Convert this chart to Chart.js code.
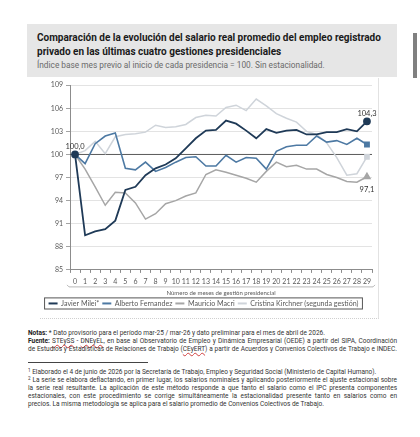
<!DOCTYPE html>
<html lang="es">
<head>
<meta charset="utf-8">
<title>Salario real del empleo registrado privado</title>
<script src="https://cdn.jsdelivr.net/npm/chart.js@4.4.1/dist/chart.umd.min.js"></script>
<style>
  html, body { margin: 0; padding: 0; background: #fff; }
  body { width: 420px; height: 437px; position: relative; overflow: hidden; font-family: Roboto, "Noto Sans", sans-serif; }
  .title-box { position: absolute; left: 27px; top: 24px; width: 370px; height: 53px; background: #e6e6e6; }
  .title { position: absolute; left: 10px; top: 7px; font-size: 10px; font-weight: 700; line-height: 13.5px; color: #1a1a1a; white-space: nowrap; }
  .subtitle { position: absolute; left: 10px; top: 36px; font-size: 8.3px; color: #6a6a6a; white-space: nowrap; }
  .scroll { position: absolute; left: 413px; top: 33px; width: 4px; height: 45px; background: #808080; }
  .chart-frame { position: absolute; left: 40px; top: 78px; width: 338px; height: 240px; border-right: 1px solid #e2e2e2; border-bottom: 1px dotted #cfcfcf; }
  #chartWrap { position: absolute; left: 35px; top: 78px; width: 345px; height: 240px; }
  .notes { position: absolute; left: 28px; width: 369px; font-size: 6.5px; line-height: 8px; color: #333; }
  .notes div { white-space: nowrap; }
  .notes .j { text-align: justify; text-align-last: justify; }
  .notes b { font-weight: 700; color: #222; }
  .sp { text-decoration: underline wavy #d04040; text-decoration-thickness: 0.5px; text-underline-offset: 1px; }
  .rule { position: absolute; left: 28px; top: 362px; width: 120px; border-top: 0.8px solid #444; }
  sup { font-size: 4.5px; vertical-align: 2px; line-height: 0; }
</style>
</head>
<body>

<div class="title-box">
  <div class="title">Comparación de la evolución del salario real promedio del empleo registrado<br>privado en las últimas cuatro gestiones presidenciales</div>
  <div class="subtitle">Índice base mes previo al inicio de cada presidencia = 100. Sin estacionalidad.</div>
</div>
<div class="scroll"></div>

<div class="chart-frame"></div>
<div id="chartWrap"><canvas id="salaryChart" width="345" height="240"></canvas></div>

<div class="notes" style="top:329px;">
  <div><b>Notas:</b> * Dato provisorio para el período mar-25 / mar-26 y dato preliminar para el mes de abril de 2026.</div>
  <div class="j"><b>Fuente:</b> <span class="sp">STEySS</span> - <span class="sp">DNEyEL</span>, en base al Observatorio de Empleo y Dinámica Empresarial (OEDE) a partir del SIPA, Coordinación</div>
  <div class="j">de Estudios y Estadísticas de Relaciones de Trabajo (<span class="sp">CEyERT</span>) a partir de Acuerdos y Convenios Colectivos de Trabajo e INDEC.</div>
</div>
<div class="rule"></div>
<div class="notes" style="top:368px;">
  <div><sup>1</sup> Elaborado el 4 de junio de 2026 por la Secretaría de Trabajo, Empleo y Seguridad Social (Ministerio de Capital Humano).</div>
  <div class="j"><sup>2</sup> La serie se elabora deflactando, en primer lugar, los salarios nominales y aplicando posteriormente el ajuste estacional sobre</div>
  <div class="j">la serie real resultante. La aplicación de este método responde a que tanto el salario como el IPC presenta componentes</div>
  <div class="j">estacionales, con este procedimiento se corrige simultáneamente la estacionalidad presente tanto en salarios como en</div>
  <div>precios. La misma metodología se aplica para el salario promedio de Convenios Colectivos de Trabajo.</div>
</div>

<script>
// salary chart
// index 100 = month before each presidency started

// ============================
// DATA
// ============================
const monthLabels = [
  "0", "1", "2", "3", "4", "5", "6", "7", "8", "9",
  "10", "11", "12", "13", "14", "15", "16", "17", "18", "19",
  "20", "21", "22", "23", "24", "25", "26", "27", "28", "29"
];

const mileiValues = [
  100, 89.5, 90.0, 90.3, 91.4, 95.4, 95.8, 97.3, 98.2, 98.7,
  99.5, 100.8, 102.1, 103.1, 103.2, 104.4, 104.0, 103.1, 102.1, 103.3,
  102.8, 103.1, 103.2, 102.6, 102.6, 102.9, 102.9, 103.3, 103.0, 104.3
];

const fernandezValues = [
  100, 98.8, 101.4, 102.4, 102.8, 98.2, 98.0, 99.0, 97.8, 98.3,
  99.0, 99.6, 99.7, 98.5, 98.5, 99.9, 99.0, 99.6, 99.5, 98.1,
  100.4, 101.0, 101.2, 101.2, 102.4, 101.6, 101.8, 101.3, 102.1, 101.3
];

const macriValues = [
  100, 98.1, 95.8, 93.4, 95.1, 95.0, 93.7, 91.6, 92.3, 93.6,
  94.0, 94.6, 95.0, 97.4, 98.0, 97.7, 97.3, 96.9, 96.4, 97.8,
  99.0, 98.4, 98.6, 98.1, 98.1, 97.4, 97.0, 96.5, 96.4, 97.1
];

const kirchnerValues = [
  100, 100.5, 101.7, 100.1, 102.3, 102.6, 102.7, 102.9, 103.8, 103.5,
  103.6, 103.9, 104.8, 105.1, 105.0, 106.1, 106.4, 105.7, 107.2, 106.3,
  105.3, 104.7, 104.2, 103.0, 102.6, 101.5, 99.6, 97.3, 97.5, 99.7
];

const seriesNames = [
  "Javier Milei*",
  "Alberto Fernandez",
  "Mauricio Macri",
  "Cristina Kirchner (segunda gestión)"
];

const yTickValues = [85, 88, 91, 94, 97, 100, 103, 106, 109];
const BASE_VALUE = 100;

// ============================
// HELPERS
// ============================
const lastIndex = monthLabels.length - 1;

function formatComma(v) {
  return v.toFixed(1).replace(".", ",");
}

// marker only on chosen points
function markerAt(indexes, size) {
  return ctx => (indexes.includes(ctx.dataIndex) ? size : 0);
}

// ============================
// PLUGINS
// ============================
const baseLinePlugin = {
  id: "baseLine",
  beforeDatasetsDraw(chart) {
    const { ctx, chartArea, scales } = chart;
    const y = scales.y.getPixelForValue(BASE_VALUE);
    ctx.save();
    ctx.strokeStyle = "#5a5a5a";
    ctx.lineWidth = 1;
    ctx.beginPath();
    ctx.moveTo(chartArea.left, y);
    ctx.lineTo(chartArea.right, y);
    ctx.stroke();
    ctx.restore();
  }
};

// labels on first / last points
const pointLabels = [
  { dataset: 0, index: 0, dy: -4 },
  { dataset: 0, index: lastIndex, dy: -4 },
  { dataset: 2, index: lastIndex, dy: 17 }
];

const valueLabelPlugin = {
  id: "valueLabels",
  afterDatasetsDraw(chart) {
    const ctx = chart.ctx;
    ctx.save();
    ctx.font = "7.5px Lato, 'Open Sans', sans-serif";
    ctx.fillStyle = "#333333";
    ctx.textAlign = "center";
    ctx.textBaseline = "bottom";
    pointLabels.forEach(lbl => {
      const pt = chart.getDatasetMeta(lbl.dataset).data[lbl.index];
      const value = chart.data.datasets[lbl.dataset].data[lbl.index];
      ctx.fillText(formatComma(value), pt.x, pt.y + lbl.dy);
    });
    ctx.restore();
  }
};

// bracket under the month numbers + box round the legend
const framePlugin = {
  id: "frames",
  afterDraw(chart) {
    const { ctx, scales } = chart;
    const x = scales.x;
    const by = x.top + 17;

    ctx.save();
    ctx.strokeStyle = "#9a9a9a";
    ctx.lineWidth = 0.7;
    ctx.beginPath();
    ctx.moveTo(x.left - 3, by - 2);
    ctx.lineTo(x.left - 1, by);
    ctx.lineTo(x.right + 1, by);
    ctx.lineTo(x.right + 3, by - 2);
    ctx.stroke();

    const boxes = chart.legend.legendHitBoxes;
    if (boxes && boxes.length) {
      const left = Math.min(...boxes.map(b => b.left)) - 4;
      const right = Math.max(...boxes.map(b => b.left + b.width)) + 4;
      const top = Math.min(...boxes.map(b => b.top)) - 2;
      const bottom = Math.max(...boxes.map(b => b.top + b.height)) + 2;
      ctx.strokeStyle = "#555555";
      ctx.lineWidth = 1;
      ctx.strokeRect(left, top, right - left, bottom - top);
    }
    ctx.restore();
  }
};

// ============================
// CHART
// ============================
const tickFont = { family: "Lato, 'Open Sans', sans-serif", size: 7 };

new Chart(document.getElementById("salaryChart").getContext("2d"), {
  type: "line",
  data: {
    labels: monthLabels,
    datasets: [
      {
        label: seriesNames[0],
        data: mileiValues,
        borderColor: "#1f3a57",
        backgroundColor: "#1f3a57",
        borderWidth: 1.8,
        pointStyle: "circle",
        pointRadius: markerAt([0, lastIndex], 3),
        tension: 0
      },
      {
        label: seriesNames[1],
        data: fernandezValues,
        borderColor: "#4d79a3",
        backgroundColor: "#4d79a3",
        borderWidth: 1.6,
        pointStyle: "rect",
        pointRadius: markerAt([lastIndex], 3),
        tension: 0
      },
      {
        label: seriesNames[2],
        data: macriValues,
        borderColor: "#a6a6a6",
        backgroundColor: "#a6a6a6",
        borderWidth: 1.5,
        pointStyle: "triangle",
        pointRadius: markerAt([lastIndex], 3.5),
        tension: 0
      },
      {
        label: seriesNames[3],
        data: kirchnerValues,
        borderColor: "#cfd4da",
        backgroundColor: "#cfd4da",
        borderWidth: 1.5,
        pointStyle: "rect",
        pointRadius: markerAt([lastIndex], 3),
        tension: 0
      }
    ]
  },
  options: {
    responsive: false,
    animation: false,
    layout: { padding: { left: 0, right: 8, top: 6, bottom: 1 } },
    scales: {
      x: {
        type: "category",
        offset: true,
        grid: {
          offset: true,
          drawOnChartArea: false,
          drawTicks: true,
          tickLength: 3,
          tickColor: "#8c8c8c"
        },
        border: { color: "#8c8c8c", width: 1 },
        ticks: {
          font: tickFont,
          color: "#595959",
          autoSkip: false,
          maxRotation: 0,
          padding: 5
        },
        title: {
          display: true,
          text: "Número de meses de gestión presidencial",
          font: { family: "Lato, 'Open Sans', sans-serif", size: 6 },
          color: "#595959",
          padding: { top: 4, bottom: 0 }
        },
        afterFit: scale => { scale.height = 27; }
      },
      y: {
        min: 85,
        max: 109,
        afterBuildTicks: scale => {
          scale.ticks = yTickValues.map(v => ({ value: v }));
        },
        grid: {
          color: "#dcdcdc",
          lineWidth: 0.8,
          tickLength: 4,
          tickColor: "#8c8c8c"
        },
        border: { color: "#8c8c8c", width: 1 },
        ticks: {
          font: tickFont,
          color: "#595959",
          padding: 3
        },
        afterFit: scale => { scale.width = 35; }
      }
    },
    plugins: {
      legend: {
        position: "bottom",
        labels: {
          boxWidth: 9,
          boxHeight: 2,
          padding: 3,
          color: "#595959",
          font: { family: "Lato, 'Open Sans', sans-serif", size: 7.1 },
          generateLabels: chart =>
            Chart.defaults.plugins.legend.labels.generateLabels(chart).map(item => ({
              ...item,
              fillStyle: item.strokeStyle,
              lineWidth: 0
            }))
        }
      },
      tooltip: { enabled: false }
    }
  },
  plugins: [baseLinePlugin, valueLabelPlugin, framePlugin]
});
</script>
</body>
</html>
